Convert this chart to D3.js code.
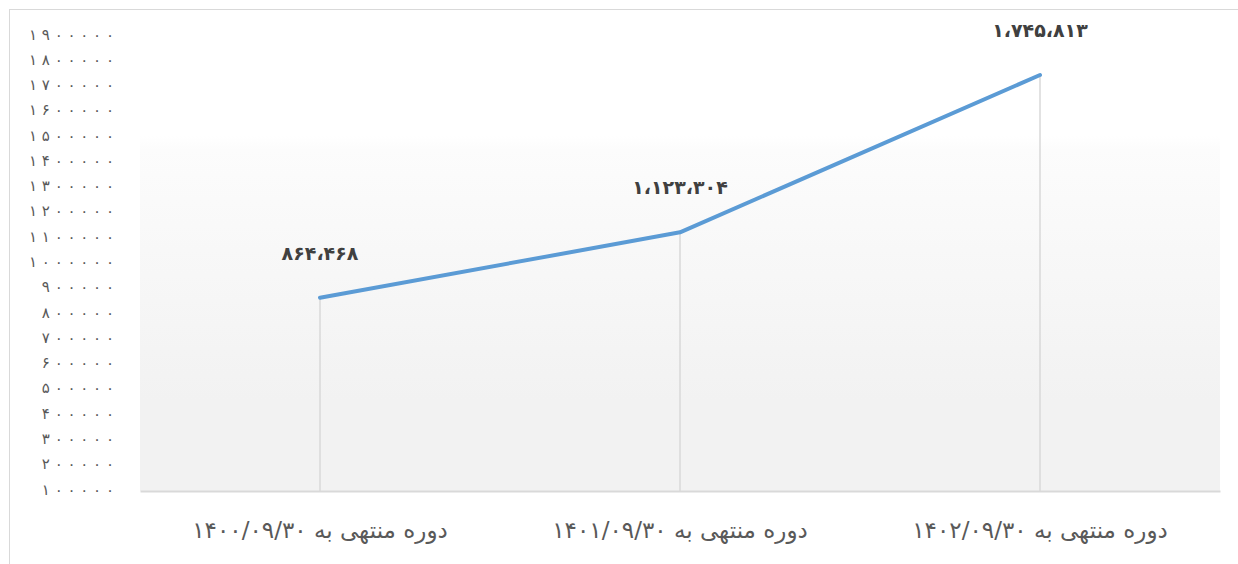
<!DOCTYPE html>
<html>
<head>
<meta charset="utf-8">
<script src="https://cdn.jsdelivr.net/npm/d3@7"></script>
<style>
  body { margin: 0; background: #fff; }
  text { font-family: "DejaVu Sans", sans-serif; }
</style>
</head>
<body>
<script>
// chart data
const periods = ['1400/09/30', '1401/09/30', '1402/09/30'];
const values = [864468, 1123304, 1745813];
const yTicks = [100000, 200000, 300000, 400000, 500000, 600000, 700000, 800000, 900000, 1000000,
  1100000, 1200000, 1300000, 1400000, 1500000, 1600000, 1700000, 1800000, 1900000];
const periodPrefix = 'دوره منتهی به ';

const svgDims = { width: 1238, height: 564 };
const margin = { top: 36, right: 18, bottom: 73, left: 140 };
const graphWidth = svgDims.width - margin.left - margin.right;
const graphHeight = svgDims.height - margin.top - margin.bottom;

const faDigits = '۰۱۲۳۴۵۶۷۸۹';
const toFa = s => String(s).replace(/[0-9]/g, d => faDigits[+d]);
const fmtLabel = v => toFa(d3.format(',')(v)).replace(/,/g, '،');
// spread the tick digits out like the original font does
const spaced = s => toFa(s).split('').join(' ');

const svg = d3.select('body').append('svg')
  .attr('width', svgDims.width)
  .attr('height', svgDims.height);

// outer chart border (left and top show)
svg.append('rect')
  .attr('x', 9.5).attr('y', 9.5)
  .attr('width', svgDims.width).attr('height', svgDims.height)
  .attr('fill', 'none')
  .attr('stroke', '#d9d9d9');

const grad = svg.append('defs').append('linearGradient')
  .attr('id', 'plotBg')
  .attr('x1', 0).attr('y1', 0).attr('x2', 0).attr('y2', 1);
grad.append('stop').attr('offset', '0%').attr('stop-color', '#ffffff');
grad.append('stop').attr('offset', '22%').attr('stop-color', '#ffffff');
grad.append('stop').attr('offset', '25%').attr('stop-color', '#fcfcfc');
grad.append('stop').attr('offset', '80%').attr('stop-color', '#f2f2f2');
grad.append('stop').attr('offset', '100%').attr('stop-color', '#f2f2f2');

const graph = svg.append('g')
  .attr('transform', `translate(${margin.left},${margin.top})`);

graph.append('rect')
  .attr('width', graphWidth)
  .attr('height', graphHeight)
  .attr('fill', 'url(#plotBg)');

const x = d3.scaleBand()
  .domain(periods)
  .range([0, graphWidth]);

const y = d3.scaleLinear()
  .domain([100000, 1900000])
  .range([graphHeight, 0]);

const cx = d => x(d) + x.bandwidth() / 2;

// y axis labels
const yAxis = d3.axisLeft(y)
  .tickValues(yTicks)
  .tickSize(0)
  .tickPadding(26)
  .tickFormat(d => spaced(d));

const yAxisGroup = graph.append('g').call(yAxis);
yAxisGroup.select('.domain').remove();
yAxisGroup.selectAll('text')
  .attr('fill', '#595959')
  .attr('font-size', 15)
  .attr('dy', '0.2em');

// drop lines
graph.selectAll('.drop')
  .data(periods)
  .enter().append('line')
  .attr('class', 'drop')
  .attr('x1', d => cx(d)).attr('x2', d => cx(d))
  .attr('y1', (d, i) => y(values[i]))
  .attr('y2', graphHeight)
  .attr('stroke', '#d9d9d9')
  .attr('stroke-width', 1.5);

// x axis
const xAxis = d3.axisBottom(x)
  .tickSize(0)
  .tickPadding(31)
  .tickFormat(d => periodPrefix + toFa(d));

const xAxisGroup = graph.append('g')
  .attr('transform', `translate(0,${graphHeight})`)
  .call(xAxis);
xAxisGroup.select('.domain')
  .attr('stroke', '#d9d9d9')
  .attr('stroke-width', 2);
xAxisGroup.selectAll('text')
  .attr('fill', '#595959')
  .attr('font-size', 23)
  .attr('direction', 'rtl')
  .attr('dy', '0.7em');

// line
const line = d3.line()
  .x(d => cx(d.p))
  .y(d => y(d.v));

const pts = periods.map((p, i) => ({ p, v: values[i] }));

graph.append('path')
  .datum(pts)
  .attr('d', line)
  .attr('fill', 'none')
  .attr('stroke', '#5b9bd5')
  .attr('stroke-width', 4)
  .attr('stroke-linecap', 'round')
  .attr('stroke-linejoin', 'round');

// data labels
graph.selectAll('.lbl')
  .data(pts)
  .enter().append('text')
  .attr('class', 'lbl')
  .attr('x', d => cx(d.p))
  .attr('y', d => y(d.v) - 38)
  .attr('text-anchor', 'middle')
  .attr('font-size', 19)
  .attr('font-weight', 'bold')
  .attr('fill', '#404040')
  .text(d => fmtLabel(d.v));
</script>
</body>
</html>
